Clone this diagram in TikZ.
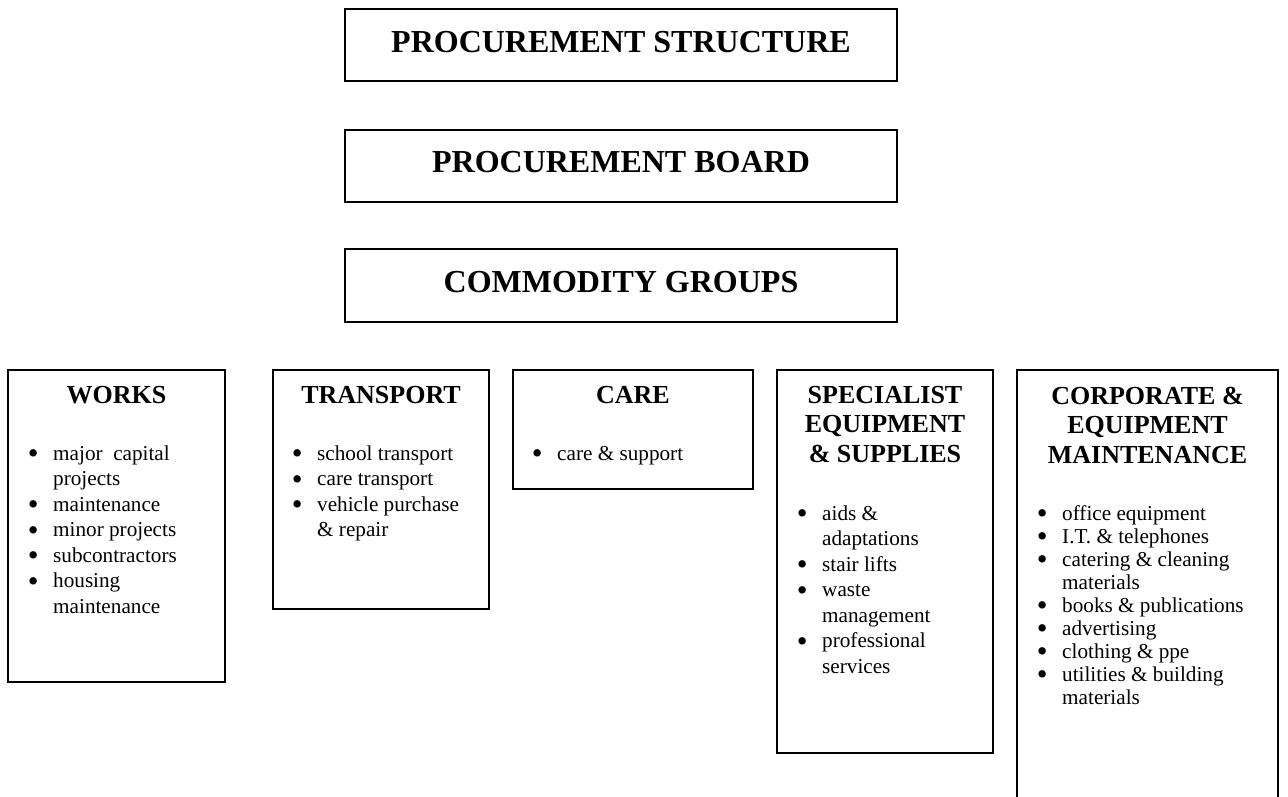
\documentclass[tikz,border=0pt]{standalone}
\usepackage{fontspec}
\usepackage{graphicx}
\setmainfont{Liberation Serif}
% one centred line of a stacked title, of zero width
\newcommand\ctrline[1]{\hbox to 0pt{\hss#1\hss}}
% a round list bullet, enlarged and set down to mid x-height
\newcommand\bigdot{\raisebox{-3.5pt}{\scalebox{1.45}{\textbullet}}}
% a bulleted line and its continuation line
\newcommand\bitem[1]{\hbox{\llap{\bigdot\hspace{14.6pt}}#1}}
\newcommand\contline[1]{\hbox{#1}}
\begin{document}
\begin{tikzpicture}[x=1pt,y=-1pt,
  frame/.style={draw=black, line width=1.8pt, inner sep=0pt, outer sep=0pt, anchor=north west},
  head/.style={font=\fontsize{32}{36}\selectfont\bfseries, inner sep=0pt, anchor=base},
  gtitle/.style={font=\fontsize{26}{29.5}\selectfont\bfseries, inner sep=0pt, anchor=base},
  glist/.style={font=\fontsize{21.2}{25.5}\selectfont, inner sep=0pt, anchor=base west},
  glisttight/.style={font=\fontsize{21.2}{23}\selectfont, inner sep=0pt, anchor=base west},
]
\clip (0,0) rectangle (1288,796);
\fill[white] (0,0) rectangle (1288,796);

% header boxes
\node[frame, minimum width=552, minimum height=72] (structure) at (345,9) {};
\node[head] (structuretext) at (621,52) {PROCUREMENT STRUCTURE};
\node[frame, minimum width=552, minimum height=72] (board) at (345,130) {};
\node[head] (boardtext) at (621,172) {PROCUREMENT BOARD};
\node[frame, minimum width=552, minimum height=73] (groups) at (345,249) {};
\node[head] (groupstext) at (621,292) {COMMODITY GROUPS};

% works
\node[frame, minimum width=217, minimum height=312] (works) at (8,370) {};
\node[gtitle] (workstitle) at (116.5,403) {\vtop{\ctrline{WORKS}}};
\node[glist] (workslist) at (53,460) {\vtop{%
  \bitem{major\ \ capital}\contline{projects}\bitem{maintenance}%
  \bitem{minor projects}\bitem{subcontractors}\bitem{housing}\contline{maintenance}}};

% transport
\node[frame, minimum width=216, minimum height=239] (transport) at (273,370) {};
\node[gtitle] (transporttitle) at (381,403) {\vtop{\ctrline{TRANSPORT}}};
\node[glist] (transportlist) at (317,460) {\vtop{%
  \bitem{school transport}\bitem{care transport}%
  \bitem{vehicle purchase}\contline{\& repair}}};

% care
\node[frame, minimum width=240, minimum height=119] (care) at (513,370) {};
\node[gtitle] (caretitle) at (633,403) {\vtop{\ctrline{CARE}}};
\node[glist] (carelist) at (557,460) {\vtop{\bitem{care \& support}}};

% specialist equipment
\node[frame, minimum width=216, minimum height=383] (specialist) at (777,370) {};
\node[gtitle] (specialisttitle) at (885,403) {\vtop{%
  \ctrline{SPECIALIST}\ctrline{EQUIPMENT}\ctrline{\& SUPPLIES}}};
\node[glist] (specialistlist) at (822,520) {\vtop{%
  \bitem{aids \&}\contline{adaptations}\bitem{stair lifts}%
  \bitem{waste}\contline{management}\bitem{professional}\contline{services}}};

% corporate (runs on past the lower edge)
\node[frame, minimum width=261, minimum height=440] (corporate) at (1017,370) {};
\node[gtitle] (corporatetitle) at (1147.5,404) {\vtop{%
  \ctrline{CORPORATE \&}\ctrline{EQUIPMENT}\ctrline{MAINTENANCE}}};
\node[glisttight] (corporatelist) at (1062,520) {\vtop{%
  \bitem{office equipment}\bitem{I.T. \& telephones}%
  \bitem{catering \& cleaning}\contline{materials}%
  \bitem{books \& publications}\bitem{advertising}\bitem{clothing \& ppe}%
  \bitem{utilities \& building}\contline{materials}}};
\end{tikzpicture}
\end{document}
